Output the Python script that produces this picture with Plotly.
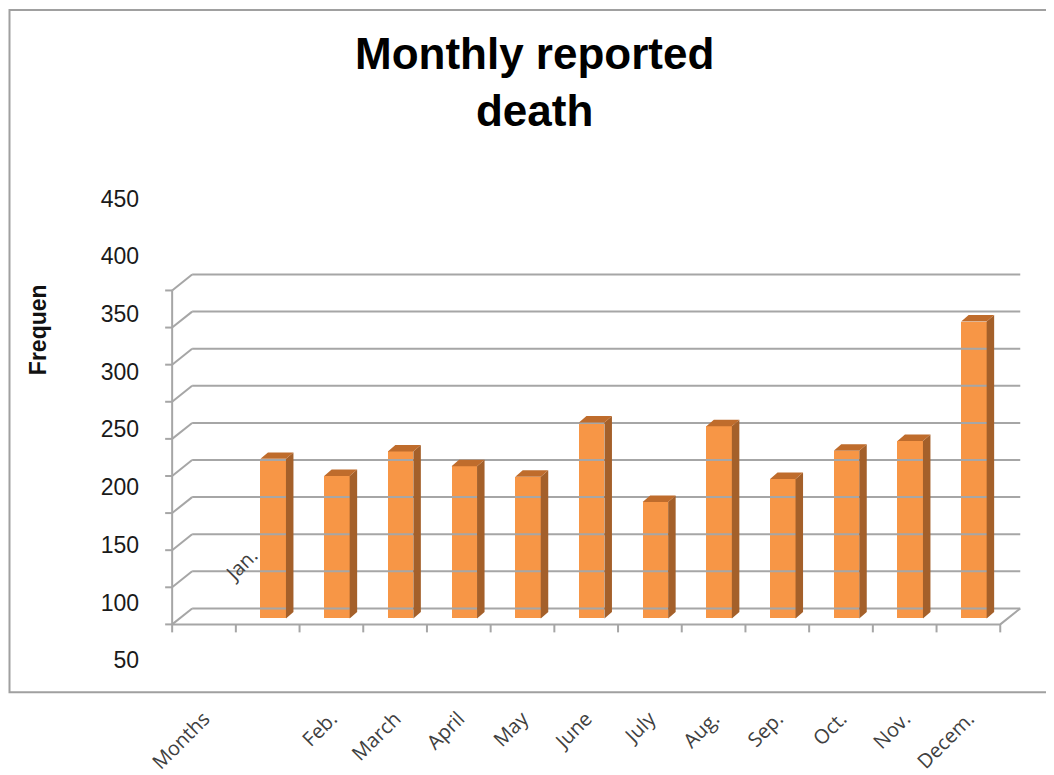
import plotly.graph_objects as go

# ---------------- data ----------------
months = ["Jan.", "Feb.", "March", "April", "May", "June", "July",
          "Aug.", "Sep.", "Oct.", "Nov.", "Decem."]
deaths = [215, 192, 225, 205, 191, 264, 157, 259, 188, 226, 239, 400]
axis_label_text = ["Months", ""] + months[1:]          # category labels shown under the box
grid_values = [0, 50, 100, 150, 200, 250, 300, 350, 400, 450]
shown_tick_values = [50, 100, 150, 200, 250, 300, 350, 400, 450]

# ---------------- geometry (reference-pixel helpers) ----------------
OFF = 8                      # page body margin
W, H = 1054 - OFF, 775 - OFF
SLOT_PX = 63.7               # pixels per category slot
X0_PX = 204.0 - OFF          # slot 0 centre on front floor
UNIT_PX = 0.744              # pixels per value unit
FLOOR_PX = 626.0 - OFF       # front floor (value 0)


def px(x):
    return (x - OFF) / W


def py(y):
    return 1 - (y - OFF) / H


def kx(p):
    return (p - X0_PX) / SLOT_PX


def vy(p):
    return (FLOOR_PX - p) / UNIT_PX


x_range = [kx(0), kx(W)]
y_range = [vy(H), vy(0)]

DX, DY = 20 / SLOT_PX, 16 / UNIT_PX          # full depth of the box
BX, BY = 5.5 / SLOT_PX, 6 / UNIT_PX          # bar front face offset
BW = 25.5 / SLOT_PX                          # bar front width
dX, dY = 7.5 / SLOT_PX, 6.5 / UNIT_PX        # bar depth
XL, XR = -0.5, 12.5
n_slots = len(axis_label_text)

# ---------------- grid / frame lines ----------------
gx, gy = [], []
for v in grid_values:
    gx += [XL + DX, XR + DX, None]
    gy += [v + DY, v + DY, None]
    gx += [XL, XL + DX, None]
    gy += [v, v + DY, None]
    gx += [XL - 7 / SLOT_PX, XL, None]
    gy += [v, v, None]
gx += [XL, XR, XR + DX, None]
gy += [0, 0, DY, None]
gx += [XL, XL, None]
gy += [0, grid_values[-1], None]
for j in range(n_slots + 1):
    gx += [XL + j, XL + j, None]
    gy += [0, -8 / UNIT_PX, None]

fig = go.Figure()
fig.add_trace(go.Scatter(x=gx, y=gy, mode="lines",
                         line=dict(color="#A6A6A6", width=2),
                         hoverinfo="skip", showlegend=False))

# ---------------- 3D bars ----------------
centers = [i + 1 + BX for i in range(len(months))]
fig.add_trace(go.Bar(x=centers, y=deaths, base=BY, width=BW,
                     marker=dict(color="#F79646", line=dict(width=0)),
                     showlegend=False, name="Deaths"))

sx, sy, tx, ty = [], [], [], []
for c, v in zip(centers, deaths):
    r = c + BW / 2
    l = c - BW / 2
    top = BY + v
    sx += [r, r + dX, r + dX, r, r, None]
    sy += [BY, BY + dY, top + dY, top, BY, None]
    tx += [l, l + dX, r + dX, r, l, None]
    ty += [top, top + dY, top + dY, top, top, None]

fig.add_trace(go.Scatter(x=sx, y=sy, mode="lines", fill="toself",
                         fillcolor="#A4602A", line=dict(width=0, color="#A4602A"),
                         hoverinfo="skip", showlegend=False))
fig.add_trace(go.Scatter(x=tx, y=ty, mode="lines", fill="toself",
                         fillcolor="#BF6C2C", line=dict(width=0, color="#BF6C2C"),
                         hoverinfo="skip", showlegend=False))

fig.add_trace(go.Scatter(x=[0], y=[50], xaxis="x2", yaxis="y", mode="markers",
                         marker=dict(opacity=0), hoverinfo="skip", showlegend=False))
fig.add_trace(go.Scatter(x=[0], y=[50], xaxis="x", yaxis="y2", mode="markers",
                         marker=dict(opacity=0), hoverinfo="skip", showlegend=False))

# ---------------- secondary y-axis (labels) ----------------
tick_y_top, tick_y_bottom = 450, 50
py_top, py_bottom = 199.0 - OFF, 662.0 - OFF
scale2 = (py_bottom - py_top) / (tick_y_top - tick_y_bottom)
y2_range = [tick_y_bottom - (H - py_bottom) / scale2, tick_y_bottom + py_bottom / scale2]

fig.update_layout(
    width=W, height=H,
    margin=dict(l=0, r=0, t=0, b=0),
    paper_bgcolor="white", plot_bgcolor="white",
    bargap=0,
    xaxis=dict(domain=[0, 1], range=x_range, visible=False, fixedrange=True),
    yaxis=dict(domain=[0, 1], range=y_range, visible=False, fixedrange=True),
    xaxis2=dict(overlaying="x", range=x_range, anchor="free", position=py(704),
                tickmode="array", tickvals=list(range(n_slots)), ticktext=axis_label_text,
                tickangle=-45, ticks="", showline=False, showgrid=False, zeroline=False,
                tickfont=dict(family="Open Sans", size=20, color="#404040")),
    yaxis2=dict(overlaying="y", range=y2_range, anchor="free", position=px(139),
                side="left", tickmode="array", tickvals=shown_tick_values,
                ticks="", showline=False, showgrid=False, zeroline=False,
                tickfont=dict(family="Liberation Sans, Arial", size=23, color="#1a1a1a")),
    shapes=[dict(type="path", xref="paper", yref="paper",
                 path=f"M 1.02 {py(10)} L {px(9.5)} {py(10)} L {px(9.5)} {py(694)} L 1.02 {py(694)}",
                 line=dict(color="#A0A0A0", width=2))],
    annotations=[
        dict(text="<b>Monthly reported<br>death</b>", xref="paper", yref="paper",
             x=px(534), y=py(82), xanchor="center", yanchor="middle",
             showarrow=False, font=dict(family="Liberation Sans, Arial", size=44, color="#000000")),
        dict(text="<b>Frequen</b>", xref="paper", yref="paper",
             x=px(38), y=py(331), xanchor="center", yanchor="middle", textangle=-90,
             showarrow=False, font=dict(family="Liberation Sans, Arial", size=23, color="#111111")),
        dict(text=months[0], xref="paper", yref="paper",
             x=px(241), y=py(566), xanchor="center", yanchor="middle", textangle=-45,
             showarrow=False, font=dict(family="Open Sans", size=20, color="#404040")),
    ],
)

fig.write_html("out.html")
